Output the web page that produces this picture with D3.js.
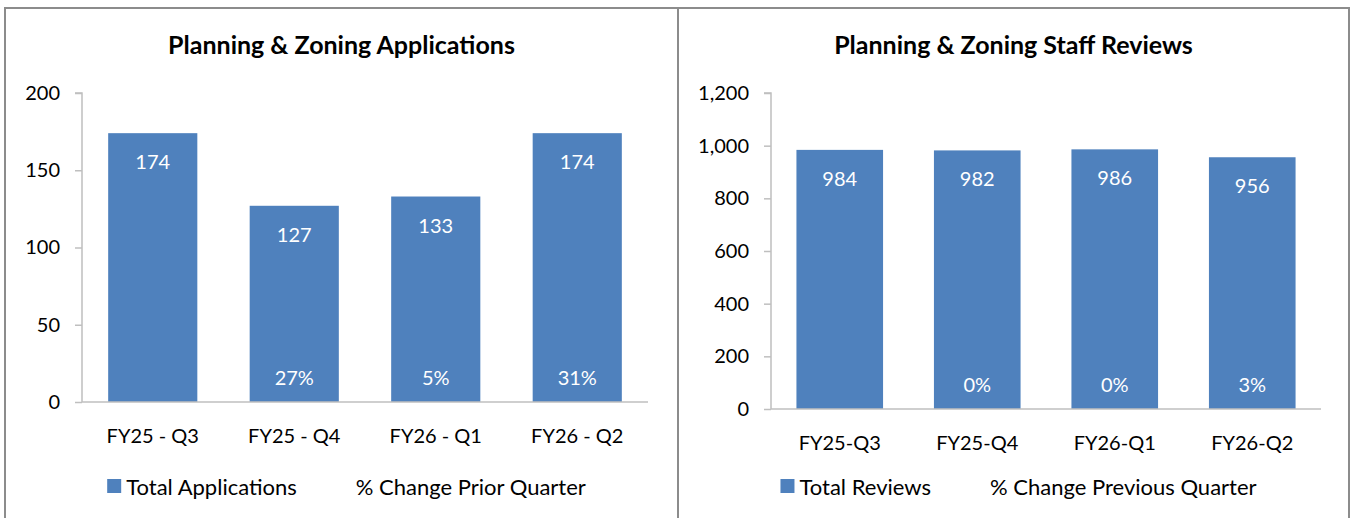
<!DOCTYPE html>
<html lang="en">
<head>
    <meta charset="UTF-8">
    <title>Planning & Zoning</title>
    <style>
        body { margin: 0; background: #fff; }
        svg { display: block; font-family: Lato, "Open Sans", sans-serif; }
    </style>
</head>
<body>

    <div id="d3-container"></div>

    <script src="https://d3js.org/d3.v7.min.js"></script>
    <script>
        // chart values
        const appCategories = ["FY25 - Q3", "FY25 - Q4", "FY26 - Q1", "FY26 - Q2"];
        const appTotals = [174, 127, 133, 174];
        const appPctChange = [null, 27, 5, 31];
        const appTicks = [0, 50, 100, 150, 200];

        const reviewCategories = ["FY25-Q3", "FY25-Q4", "FY26-Q1", "FY26-Q2"];
        const reviewTotals = [984, 982, 986, 956];
        const reviewPctChange = [null, 0, 0, 3];
        const reviewTicks = [0, 200, 400, 600, 800, 1000, 1200];

        const width = 1351;
        const height = 518;
        const barColor = '#4F81BD';
        const axisColor = '#BFBFBF';

        const svg = d3.select('#d3-container')
            .append('svg')
            .attr('width', width)
            .attr('height', height);

        const panels = [
            {
                title: 'Planning & Zoning Applications',
                cats: appCategories, totals: appTotals, pct: appPctChange, ticks: appTicks,
                legend: ['Total Applications', '% Change Prior Quarter'],
                x0: 5, x1: 678,
                margin: { left: 82, right: 648, top: 93, bottom: 402 }
            },
            {
                title: 'Planning & Zoning Staff Reviews',
                cats: reviewCategories, totals: reviewTotals, pct: reviewPctChange, ticks: reviewTicks,
                legend: ['Total Reviews', '% Change Previous Quarter'],
                x0: 678, x1: 1349,
                margin: { left: 771, right: 1321, top: 93, bottom: 409 }
            }
        ];

        panels.forEach(p => drawPanel(p));

        // frame lines round the two panels (open at the bottom)
        svg.append('path')
            .attr('d', `M5,${height} V8 H1349 V${height} M678,8 V${height}`)
            .attr('fill', 'none')
            .attr('stroke', '#8C8C8C')
            .attr('stroke-width', 2);

        function drawPanel(p) {
            const g = svg.append('g');
            const m = p.margin;
            const cx = (p.x0 + p.x1) / 2;

            g.append('text')
                .attr('x', cx)
                .attr('y', 44)
                .attr('text-anchor', 'middle')
                .attr('dominant-baseline', 'central')
                .attr('font-weight', 'bold')
                .attr('font-size', '25px')
                .text(p.title);

            const x = d3.scaleBand()
                .domain(p.cats)
                .range([m.left, m.right])
                .paddingInner(0.37)
                .paddingOuter(0.185);

            const y = d3.scaleLinear()
                .domain([0, d3.max(p.ticks)])
                .range([m.bottom, m.top]);

            // y axis
            const yAxis = g.append('g')
                .attr('transform', `translate(${m.left},0)`)
                .call(d3.axisLeft(y).tickValues(p.ticks).tickSize(7).tickPadding(15)
                    .tickFormat(d3.format(',')));
            yAxis.select('.domain').attr('d', `M-7,${m.top}H0V${m.bottom}`);
            styleAxis(yAxis);

            // bars
            g.append('g')
                .attr('fill', barColor)
                .selectAll('rect')
                .data(p.totals)
                .join('rect')
                .attr('x', (d, i) => x(p.cats[i]))
                .attr('y', d => y(d))
                .attr('width', x.bandwidth())
                .attr('height', d => y(0) - y(d));

            // x axis
            const xAxis = g.append('g')
                .attr('transform', `translate(0,${m.bottom})`)
                .call(d3.axisBottom(x).tickSize(0).tickPadding(27));
            xAxis.select('.domain').attr('d', `M${m.left},0H${m.right}`);
            styleAxis(xAxis);

            // value labels inside the top of each bar
            g.append('g')
                .selectAll('text')
                .data(p.totals)
                .join('text')
                .attr('x', (d, i) => x(p.cats[i]) + x.bandwidth() / 2)
                .attr('y', d => y(d) + 28)
                .attr('text-anchor', 'middle')
                .attr('dominant-baseline', 'central')
                .attr('fill', '#fff')
                .attr('font-size', '20px')
                .text(d => d3.format(',')(d));

            // % change labels near the base
            const pctData = p.pct
                .map((v, i) => ({ cat: p.cats[i], v }))
                .filter(d => d.v !== null);
            g.append('g')
                .selectAll('text')
                .data(pctData)
                .join('text')
                .attr('x', d => x(d.cat) + x.bandwidth() / 2)
                .attr('y', y(0) - 25)
                .attr('text-anchor', 'middle')
                .attr('dominant-baseline', 'central')
                .attr('fill', '#fff')
                .attr('font-size', '20px')
                .text(d => d.v + '%');

            // legend
            const lg = g.append('g');
            lg.append('rect')
                .attr('x', 0).attr('y', -7)
                .attr('width', 14).attr('height', 14)
                .attr('fill', barColor);
            const t1 = lg.append('text')
                .attr('x', 19)
                .attr('dominant-baseline', 'central')
                .attr('font-size', '22px')
                .text(p.legend[0]);
            const w1 = 19 + t1.node().getComputedTextLength();
            const t2 = lg.append('text')
                .attr('x', w1 + 59)
                .attr('dominant-baseline', 'central')
                .attr('font-size', '22px')
                .text(p.legend[1]);
            const total = w1 + 59 + t2.node().getComputedTextLength();
            lg.attr('transform', `translate(${cx + 5 - total / 2},486)`);
        }

        function styleAxis(a) {
            a.select('.domain').attr('stroke', axisColor).attr('stroke-width', 1.5);
            a.selectAll('.tick line').attr('stroke', axisColor).attr('stroke-width', 1.5);
            a.selectAll('.tick text')
                .attr('font-family', 'Lato, "Open Sans", sans-serif')
                .attr('font-size', '20px')
                .attr('fill', '#000');
        }
    </script>

</body>
</html>
